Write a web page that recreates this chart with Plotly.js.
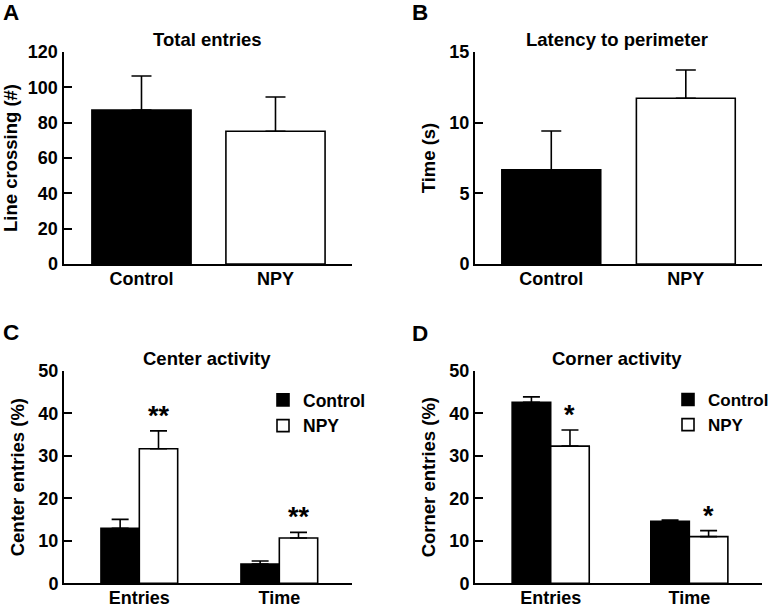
<!DOCTYPE html>
<html>
<head>
<meta charset="utf-8">
<script src="https://cdn.plot.ly/plotly-3.0.1.min.js"></script>
<style>html,body{margin:0;padding:0;background:#fff;}#chart{width:773px;height:608px;}</style>
</head>
<body>
<div id="chart"></div>
<script>
// ---- data ----
const groupsAB = ['Control', 'NPY'];
const totalEntries = [87.2, 75.1];
const totalEntriesErr = [19.2, 19.4];
const latency = [6.67, 11.73];
const latencyErr = [2.74, 2.0];

const measuresCD = ['Entries', 'Time'];
const centerControl = [12.95, 4.55];
const centerControlErr = [2.1, 0.7];
const centerNPY = [31.7, 10.67];
const centerNPYErr = [4.2, 1.33];
const cornerControl = [42.6, 14.6];
const cornerControlErr = [1.3, 0.3];
const cornerNPY = [32.3, 11.0];
const cornerNPYErr = [3.8, 1.4];
const sigCenter = ['**', '**'];
const sigCorner = ['*', '*'];

// ---- styling ----
const FONT = 'Liberation Sans, Arial, Helvetica, sans-serif';
const f = (size) => ({family: FONT, size: size, color: '#000', weight: 'bold'});
const W = 773, H = 608;
const px = (x) => x / W;
const py = (y) => (H - y) / H;

function errUp(arr, half) {
  return {type: 'data', array: arr, arrayminus: arr.map(() => 0), symmetric: false,
          visible: true, color: '#000', thickness: 1.6, width: half};
}

const traces = [];
// Panel A
traces.push({type: 'bar', x: groupsAB, y: totalEntries, xaxis: 'x', yaxis: 'y',
  width: 0.74, marker: {color: ['#000', '#fff'], line: {color: '#000', width: 1.6}},
  error_y: errUp(totalEntriesErr, 10), showlegend: false, hoverinfo: 'skip'});
// Panel B
traces.push({type: 'bar', x: groupsAB, y: latency, xaxis: 'x2', yaxis: 'y2',
  width: 0.735, marker: {color: ['#000', '#fff'], line: {color: '#000', width: 1.6}},
  error_y: errUp(latencyErr, 10), showlegend: false, hoverinfo: 'skip'});
// Panel C
traces.push({type: 'bar', name: 'Control', x: measuresCD, y: centerControl, xaxis: 'x3', yaxis: 'y3',
  width: 0.274, offset: -0.274, marker: {color: '#000', line: {color: '#000', width: 1.6}},
  error_y: errUp(centerControlErr, 8.5), legend: 'legend', hoverinfo: 'skip'});
traces.push({type: 'bar', name: 'NPY', x: measuresCD, y: centerNPY, xaxis: 'x3', yaxis: 'y3',
  width: 0.274, offset: 0, marker: {color: '#fff', line: {color: '#000', width: 1.6}},
  error_y: errUp(centerNPYErr, 8.5), legend: 'legend', hoverinfo: 'skip'});
// Panel D
traces.push({type: 'bar', name: 'Control', x: measuresCD, y: cornerControl, xaxis: 'x4', yaxis: 'y4',
  width: 0.278, offset: -0.278, marker: {color: '#000', line: {color: '#000', width: 1.6}},
  error_y: errUp(cornerControlErr, 8.5), legend: 'legend2', hoverinfo: 'skip'});
traces.push({type: 'bar', name: 'NPY', x: measuresCD, y: cornerNPY, xaxis: 'x4', yaxis: 'y4',
  width: 0.278, offset: 0, marker: {color: '#fff', line: {color: '#000', width: 1.6}},
  error_y: errUp(cornerNPYErr, 8.5), legend: 'legend2', hoverinfo: 'skip'});

function xax(domain, range, anchor) {
  return {domain: domain, range: range, type: 'category', anchor: anchor,
    showline: true, linewidth: 2, linecolor: '#000', ticks: '', showgrid: false, zeroline: false,
    tickfont: f(18), ticklabelstandoff: -3, fixedrange: true};
}
function yax(domain, range, dtick, anchor, title) {
  return {domain: domain, range: range, anchor: anchor, dtick: dtick, tick0: 0,
    showline: true, linewidth: 2, linecolor: '#000', ticks: 'inside', ticklen: 8, tickwidth: 2,
    tickcolor: '#000', showgrid: false, zeroline: false, tickfont: f(18), fixedrange: true,
    title: {text: title, font: f(18.5), standoff: 9}};
}

const annotations = [];
function ann(text, x, y, size, extra) {
  annotations.push(Object.assign({text: text, x: x, y: y, xref: 'paper', yref: 'paper',
    showarrow: false, font: f(size), xanchor: 'center', yanchor: 'middle'}, extra || {}));
}
ann('A', px(11), py(12), 22.5);
ann('B', px(420), py(12), 22.5);
ann('C', px(11), py(332), 22.5);
ann('D', px(420), py(333), 22.5);
ann('Total entries', px(208), py(39), 18.5);
ann('Latency to perimeter', px(617), py(39), 18.5);
ann('Center activity', px(207), py(358), 18.5);
ann('Corner activity', px(617), py(358), 18.5);

// significance markers above NPY error bars
measuresCD.forEach((m, i) => {
  annotations.push({text: sigCenter[i], x: i + 0.137, y: centerNPY[i] + centerNPYErr[i],
    xref: 'x3', yref: 'y3', showarrow: false, font: f(27), xanchor: 'center', yanchor: 'bottom', yshift: -2});
  annotations.push({text: sigCorner[i], x: i + 0.139, y: cornerNPY[i] + cornerNPYErr[i],
    xref: 'x4', yref: 'y4', showarrow: false, font: f(27), xanchor: 'center', yanchor: 'bottom', yshift: -2});
});

const layout = {
  width: W, height: H,
  margin: {l: 0, r: 0, t: 0, b: 0, autoexpand: false},
  paper_bgcolor: '#fff', plot_bgcolor: 'rgba(0,0,0,0)',
  font: f(18),
  barmode: 'overlay',
  xaxis: xax([px(63.5), px(352)], [-0.582, 1.571], 'y'),
  yaxis: yax([py(264), py(52)], [0, 120], 20, 'x', 'Line crossing (#)'),
  xaxis2: xax([px(475), px(761.7)], [-0.567, 1.564], 'y2'),
  yaxis2: yax([py(264), py(52)], [0, 15], 5, 'x2', 'Time (s)'),
  xaxis3: xax([px(64), px(351.7)], [-0.538, 1.517], 'y3'),
  yaxis3: yax([py(583.3), py(371)], [0, 50], 10, 'x3', 'Center entries (%)'),
  xaxis4: xax([px(475), px(761.7)], [-0.546, 1.522], 'y4'),
  yaxis4: yax([py(583.3), py(371)], [0, 50], 10, 'x4', 'Corner entries (%)'),
  legend: {x: px(263), y: py(382), xanchor: 'left', yanchor: 'top', font: f(17.5),
    bgcolor: 'rgba(0,0,0,0)', tracegroupgap: 0, itemwidth: 30},
  legend2: {x: px(668), y: py(382), xanchor: 'left', yanchor: 'top', font: f(17),
    bgcolor: 'rgba(0,0,0,0)', tracegroupgap: 0, itemwidth: 30},
  annotations: annotations,
  showlegend: true
};

Plotly.newPlot('chart', traces, layout, {displayModeBar: false, staticPlot: true});
</script>
</body>
</html>
